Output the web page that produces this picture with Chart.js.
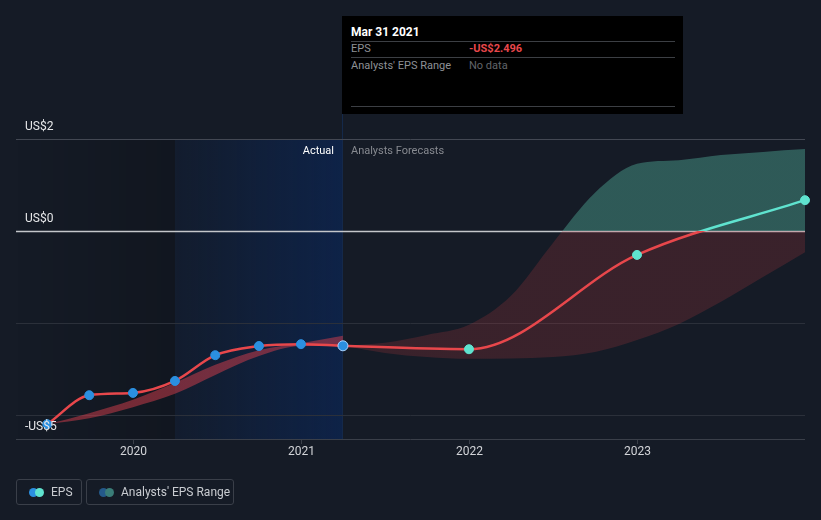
<!DOCTYPE html>
<html>
<head>
<meta charset="utf-8">
<script src="https://cdn.jsdelivr.net/npm/chart.js@4.4.1/dist/chart.umd.min.js"></script>
<style>
  html, body { margin: 0; padding: 0; background: #151b26; }
  body { width: 821px; height: 520px; position: relative; overflow: hidden; font-family: Roboto, "Open Sans", sans-serif; }
  #wrap { position: absolute; left: 0; top: 0; width: 821px; height: 520px; }
  .tip { position: absolute; left: 342px; top: 16px; width: 341px; height: 98px; background: #000; font-size: 11px; }
  .tip .row { position: absolute; left: 9px; right: 8px; height: 16px; line-height: 16px; }
  .tip .sep { position: absolute; left: 9px; right: 8px; height: 1px; background: #3c3f44; }
  .tip .k { position: absolute; left: 0; color: #8e9196; }
  .tip .v { position: absolute; left: 118px; }
  .legend { position: absolute; top: 479px; height: 26px; border: 1px solid #3a3f49; border-radius: 3px; box-sizing: border-box; color: #c9ccd1; font-size: 12px; line-height: 24px; }
  .legend .dot { position: absolute; top: 8px; width: 9px; height: 9px; border-radius: 50%; }
</style>
</head>
<body>
<div id="wrap"><canvas id="epsChart" width="821" height="520"></canvas></div>

<div class="tip">
  <div class="row" style="top:8px;color:#fff;font-weight:bold;font-size:12px;">Mar 31 2021</div>
  <div class="sep" style="top:25px"></div>
  <div class="row" style="top:25px"><span class="k">EPS</span><span class="v" style="color:#e8474b;font-weight:bold;">-US$2.496</span></div>
  <div class="sep" style="top:41px"></div>
  <div class="row" style="top:42px"><span class="k">Analysts' EPS Range</span><span class="v" style="color:#62656a;">No data</span></div>
  <div class="sep" style="top:90px"></div>
</div>

<div class="legend" style="left:16px;width:66px;">
  <span class="dot" style="left:12px;background:#2b8fe0;"></span>
  <span class="dot" style="left:18px;background:#5fe3cf;"></span>
  <span style="position:absolute;left:34px;">EPS</span>
</div>
<div class="legend" style="left:86px;width:148px;">
  <span class="dot" style="left:12px;background:#24598a;"></span>
  <span class="dot" style="left:18px;background:#3a7d78;"></span>
  <span style="position:absolute;left:34px;">Analysts' EPS Range</span>
</div>

<script>
// EPS history (quarterly) and analyst forecasts, in fractional years
const epsYears = [2019.49, 2019.74, 2020.0, 2020.25, 2020.49, 2020.75, 2021.0, 2021.25, 2022.0, 2023.0, 2024.0];
const epsValues = [-4.20, -3.57, -3.52, -3.26, -2.70, -2.50, -2.46, -2.496, -2.57, -0.52, 0.67];
const actualCount = 8;

// past analyst range around reported EPS
const pastRangeYears = [2019.49, 2019.74, 2020.0, 2020.25, 2020.49, 2020.75, 2021.0, 2021.25];
const pastRangeHigh = [-4.20, -3.96, -3.67, -3.30, -2.91, -2.59, -2.44, -2.28];
const pastRangeLow = [-4.20, -4.07, -3.83, -3.54, -3.13, -2.72, -2.50, -2.50];

// forecast range
const fcRangeYears = [2021.25, 2021.5, 2021.75, 2022.0, 2022.25, 2022.5, 2022.75, 2023.0, 2023.25, 2023.5, 2023.75, 2024.0];
const fcRangeHigh = [-2.496, -2.43, -2.26, -2.04, -1.41, -0.26, 0.83, 1.46, 1.54, 1.65, 1.72, 1.78];
const fcRangeLow = [-2.496, -2.65, -2.74, -2.78, -2.77, -2.74, -2.63, -2.37, -2.02, -1.54, -1.00, -0.46];

const gridValues = [2, 0, -2, -4];
const yLabelValues = [2, 0, -4.52];
const yLabels = ['US$2', 'US$0', '-US$5'];
const xTickValues = [2020, 2021, 2022, 2023];
const xTickLabels = ['2020', '2021', '2022', '2023'];
const pastStart = 2020.25;
const nowYear = 2021.25;

const RED = '#e8474b';
const TEAL = '#5fe3cf';

function zeroSplit(chart, above, below) {
    const area = chart.chartArea;
    if (!area) return below;
    const y0 = chart.scales.y.getPixelForValue(0);
    const t = Math.min(Math.max((y0 - area.top) / (area.bottom - area.top), 0), 1);
    const g = chart.ctx.createLinearGradient(0, area.top, 0, area.bottom);
    g.addColorStop(0, above);
    g.addColorStop(t, above);
    g.addColorStop(t, below);
    g.addColorStop(1, below);
    return g;
}

function pts(xs, ys) {
    return xs.map(function (x, i) { return { x: x, y: ys[i] }; });
}

const backdrop = {
    id: 'backdrop',
    beforeDatasetsDraw: function (chart) {
        const ctx = chart.ctx, a = chart.chartArea;
        const xs = chart.scales.x, ys = chart.scales.y;
        const xp = xs.getPixelForValue(pastStart), xn = xs.getPixelForValue(nowYear);
        ctx.save();
        let g = ctx.createLinearGradient(a.left, 0, xp, 0);
        g.addColorStop(0, 'rgba(0,0,0,0)');
        g.addColorStop(1, 'rgba(0,0,0,0.16)');
        ctx.fillStyle = g;
        ctx.fillRect(a.left, a.top, xp - a.left, a.bottom - a.top);
        g = ctx.createLinearGradient(xp, 0, xn, 0);
        g.addColorStop(0, 'rgba(10,38,85,0.18)');
        g.addColorStop(1, 'rgba(10,40,95,0.6)');
        ctx.fillStyle = g;
        ctx.fillRect(xp, a.top, xn - xp, a.bottom - a.top);
        // vertical marker
        ctx.fillStyle = '#14294a';
        ctx.fillRect(Math.round(xn) - 1, 114, 1, a.bottom - 114);

        gridValues.forEach(function (v) {
            const y = Math.round(ys.getPixelForValue(v)) + 0.5;
            ctx.beginPath();
            ctx.strokeStyle = v === 0 ? '#c4c6ca' : (v === 2 ? '#434853' : '#2b303a');
            ctx.lineWidth = v === 0 ? 1.5 : 1;
            ctx.moveTo(a.left, y);
            ctx.lineTo(a.right, y);
            ctx.stroke();
        });
        // bottom axis
        ctx.beginPath();
        ctx.strokeStyle = '#3a3f49';
        ctx.lineWidth = 1;
        ctx.moveTo(a.left, a.bottom + 0.5);
        ctx.lineTo(a.right, a.bottom + 0.5);
        ctx.stroke();
        ctx.restore();
    },
    afterDatasetsDraw: function (chart) {
        const ctx = chart.ctx, a = chart.chartArea;
        const xs = chart.scales.x, ys = chart.scales.y;
        const xn = xs.getPixelForValue(nowYear);
        ctx.save();
        ctx.font = '11px Roboto, sans-serif';
        ctx.textBaseline = 'middle';
        ctx.fillStyle = '#ffffff';
        ctx.textAlign = 'right';
        ctx.fillText('Actual', xn - 9, a.top + 12);
        ctx.fillStyle = '#878a90';
        ctx.textAlign = 'left';
        ctx.fillText('Analysts Forecasts', xn + 8, a.top + 12);

        ctx.font = '12px Roboto, sans-serif';
        ctx.fillStyle = '#e6e7e9';
        yLabelValues.forEach(function (v, i) {
            ctx.fillText(yLabels[i], a.left + 9, ys.getPixelForValue(v) - 12);
        });
        ctx.textAlign = 'center';
        ctx.fillStyle = '#d2d4d8';
        xTickValues.forEach(function (v, i) {
            const x = Math.round(xs.getPixelForValue(v)) + 0.5;
            ctx.beginPath();
            ctx.strokeStyle = '#3a3f49';
            ctx.moveTo(x, a.bottom);
            ctx.lineTo(x, a.bottom + 5);
            ctx.stroke();
            ctx.fillText(xTickLabels[i], x, a.bottom + 13);
        });
        ctx.restore();
    }
};

const pointFill = epsYears.map(function (y, i) { return i < actualCount ? '#2b8fe0' : TEAL; });
const pointEdge = epsYears.map(function (y, i) { return i === actualCount - 1 ? '#a9d4ff' : (i < actualCount ? '#2b8fe0' : TEAL); });
const pointRad = epsYears.map(function (y, i) { return i === actualCount - 1 ? 5 : 4.5; });

new Chart(document.getElementById('epsChart'), {
    type: 'line',
    data: {
        datasets: [{
            label: 'EPS',
            data: pts(epsYears, epsValues),
            borderColor: function (c) { return zeroSplit(c.chart, TEAL, RED); },
            borderWidth: 2.5,
            pointBackgroundColor: pointFill,
            pointBorderColor: pointEdge,
            pointBorderWidth: 1,
            pointRadius: pointRad,
            cubicInterpolationMode: 'monotone',
            fill: false,
            clip: false,
            order: 0
        }, {
            label: 'pastHigh',
            data: pts(pastRangeYears, pastRangeHigh),
            borderWidth: 0,
            pointRadius: 0,
            backgroundColor: function (c) { return zeroSplit(c.chart, 'rgba(86,184,163,0.45)', 'rgba(214,62,76,0.5)'); },
            cubicInterpolationMode: 'monotone',
            fill: '+1',
            order: 1
        }, {
            label: 'pastLow',
            data: pts(pastRangeYears, pastRangeLow),
            borderWidth: 0,
            pointRadius: 0,
            cubicInterpolationMode: 'monotone',
            fill: false,
            order: 1
        }, {
            label: 'fcHigh',
            data: pts(fcRangeYears, fcRangeHigh),
            borderWidth: 0,
            pointRadius: 0,
            backgroundColor: function (c) { return zeroSplit(c.chart, 'rgba(86,184,163,0.4)', 'rgba(190,58,64,0.22)'); },
            cubicInterpolationMode: 'monotone',
            fill: '+1',
            order: 1
        }, {
            label: 'fcLow',
            data: pts(fcRangeYears, fcRangeLow),
            borderWidth: 0,
            pointRadius: 0,
            cubicInterpolationMode: 'monotone',
            fill: false,
            order: 1
        }]
    },
    options: {
        responsive: false,
        animation: false,
        layout: { padding: { left: 16, right: 16, top: 139, bottom: 81 } },
        scales: {
            x: { type: 'linear', min: 2019.304, max: 2024.0, display: false },
            y: { type: 'linear', min: -4.522, max: 2, display: false }
        },
        plugins: {
            legend: { display: false },
            tooltip: { enabled: false }
        }
    },
    plugins: [backdrop]
});
</script>
</body>
</html>
